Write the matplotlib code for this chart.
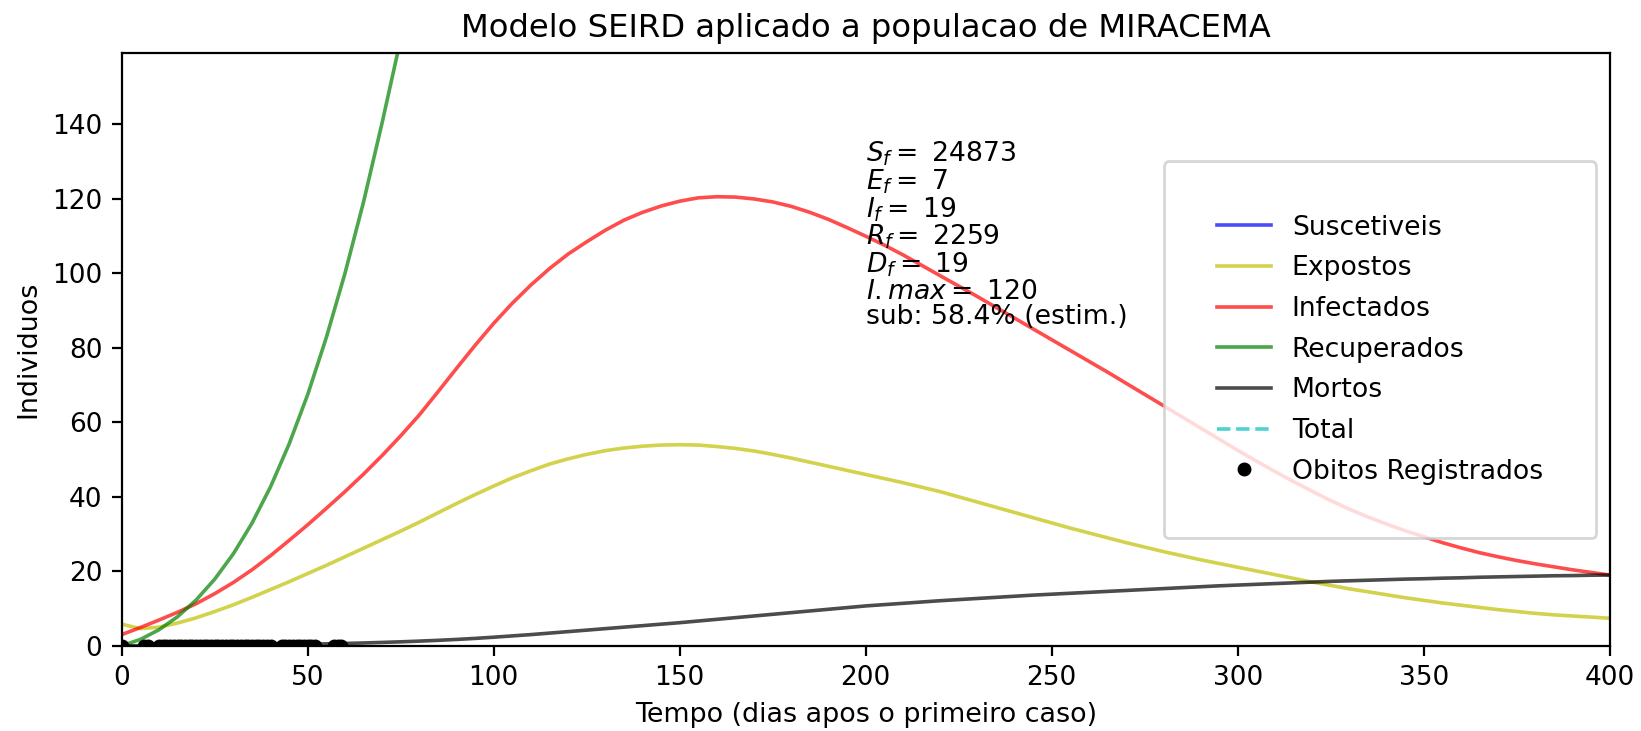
import matplotlib
matplotlib.use("Agg")
import matplotlib.pyplot as plt

# Simulated SEIRD compartments, sampled every 5 days after the first case
t = [0, 5, 10, 15, 20, 25, 30, 35, 40, 45,
     50, 55, 60, 65, 70, 75, 80, 85, 90, 95,
     100, 105, 110, 115, 120, 125, 130, 135, 140, 145,
     150, 155, 160, 165, 170, 175, 180, 185, 190, 195,
     200, 205, 210, 215, 220, 225, 230, 235, 240, 245,
     250, 255, 260, 265, 270, 275, 280, 285, 290, 295,
     300, 305, 310, 315, 320, 325, 330, 335, 340, 345,
     350, 355, 360, 365, 370, 375, 380, 385, 390, 395,
     400]

expostos = [5.8, 4.6, 5.0, 6.1, 7.5, 9.2, 11.0, 13.0, 15.1, 17.2,
            19.4, 21.6, 23.9, 26.2, 28.5, 30.8, 33.2, 35.7, 38.2, 40.6,
            42.9, 45.1, 47.0, 48.8, 50.2, 51.4, 52.4, 53.1, 53.6, 53.9,
            54.0, 53.9, 53.5, 53.0, 52.3, 51.4, 50.4, 49.3, 48.2, 47.1,
            46.0, 44.9, 43.8, 42.6, 41.4, 40.0, 38.6, 37.2, 35.8, 34.4,
            33.0, 31.6, 30.3, 29.0, 27.7, 26.5, 25.3, 24.2, 23.1, 22.1,
            21.1, 20.1, 19.1, 18.1, 17.1, 16.2, 15.3, 14.5, 13.7, 12.9,
            12.2, 11.5, 10.9, 10.3, 9.7, 9.2, 8.7, 8.3, 8.0, 7.7,
            7.4]

infectados = [3.0, 4.9, 6.9, 9.0, 11.3, 14.0, 17.0, 20.4, 24.2, 28.3,
              32.5, 36.9, 41.4, 46.1, 51.1, 56.4, 62.0, 68.2, 74.5, 80.7,
              86.6, 92.0, 96.9, 101.3, 105.2, 108.5, 111.6, 114.3, 116.4, 118.1,
              119.4, 120.3, 120.6, 120.5, 120.0, 119.2, 118.0, 116.4, 114.5, 112.3,
              110.0, 107.6, 105.0, 102.2, 99.4, 96.6, 93.8, 90.9, 88.0, 85.1,
              82.2, 79.3, 76.4, 73.5, 70.5, 67.5, 64.5, 61.5, 58.5, 55.5,
              52.5, 49.6, 46.8, 44.1, 41.5, 39.0, 36.7, 34.6, 32.7, 30.9,
              29.3, 27.7, 26.3, 25.0, 23.9, 22.9, 22.0, 21.2, 20.4, 19.7,
              19.0]

recuperados = [0.0, 1.7, 4.3, 7.8, 12.3, 17.9, 24.7, 32.9, 42.7, 54.2,
               67.5, 82.8, 100.0, 119.2, 140.5, 163.0, 188.0, 215.0, 245.0, 277.0,
               310, 345, 385, 427, 472, 518, 566, 615, 666, 718,
               770, 823, 876, 929, 982, 1035, 1087, 1139, 1190, 1245,
               1300, 1350, 1398, 1445, 1491, 1536, 1580, 1622, 1663, 1702,
               1740, 1776, 1811, 1844, 1876, 1906, 1934, 1961, 1986, 2009,
               2030, 2048, 2065, 2081, 2096, 2110, 2123, 2135, 2147, 2158,
               2168, 2178, 2187, 2196, 2205, 2214, 2223, 2233, 2242, 2251,
               2259]

mortos = [0.0, 0.01, 0.03, 0.05, 0.08, 0.12, 0.16, 0.21, 0.27, 0.34,
          0.42, 0.51, 0.62, 0.75, 0.9, 1.06, 1.25, 1.46, 1.7, 1.98,
          2.3, 2.65, 3.0, 3.4, 3.8, 4.2, 4.6, 5.0, 5.4, 5.8,
          6.2, 6.65, 7.1, 7.55, 8.0, 8.45, 8.9, 9.35, 9.8, 10.25,
          10.7, 11.05, 11.4, 11.75, 12.1, 12.4, 12.7, 13.0, 13.3, 13.6,
          13.85, 14.1, 14.35, 14.6, 14.85, 15.1, 15.35, 15.6, 15.85, 16.1,
          16.3, 16.5, 16.7, 16.9, 17.1, 17.3, 17.45, 17.6, 17.75, 17.9,
          18.0, 18.15, 18.25, 18.4, 18.5, 18.6, 18.7, 18.8, 18.85, 18.95,
          19.0]

# Susceptible and total population (far above the visible range)
t_s = [0, 100, 200, 300, 400]
suscetiveis = [27168, 26560, 25460, 24980, 24873]
total = [27177, 27177, 27177, 27177, 27177]

# Recorded deaths (days with reports)
dias_obitos = [0, 6, 7, 10, 11, 12, 13, 14, 15, 16, 17, 18, 19, 20, 21, 22, 23, 24, 25, 26, 27,
               28, 29, 30, 31, 32, 33, 34, 35, 36, 37, 38, 39, 40, 43, 44, 45, 46, 47, 48, 49,
               50, 51, 52, 57, 58, 59]
obitos = [0] * len(dias_obitos)

resumo = [r"$S_f = $ 24873", r"$E_f = $ 7", r"$I_f = $ 19", r"$R_f = $ 2259",
          r"$D_f = $ 19", r"$I.max = $ 120", "sub: 58.4% (estim.)"]

fig = plt.figure(figsize=(8.205, 3.655), dpi=200)
ax = fig.add_axes([0.0742, 0.1166, 0.9067, 0.8104])

lw = 1.3
ax.plot(t_s, suscetiveis, 'b', alpha=0.7, lw=lw, label='Suscetiveis')
ax.plot(t, expostos, 'y', alpha=0.7, lw=lw, label='Expostos')
ax.plot(t, infectados, 'r', alpha=0.7, lw=lw, label='Infectados')
ax.plot(t, recuperados, 'g', alpha=0.7, lw=lw, label='Recuperados')
ax.plot(t, mortos, 'k', alpha=0.7, lw=lw, label='Mortos')
ax.plot(t_s, total, 'c--', alpha=0.7, lw=lw, label='Total')
ax.plot(dias_obitos, obitos, 'ko', markersize=4.0, label='Obitos Registrados')

ax.set_xlim(0, 400)
ax.set_ylim(0, 159.1)
ax.set_yticks([0, 20, 40, 60, 80, 100, 120, 140])
ax.tick_params(labelsize=9.5)

ax.set_title('Modelo SEIRD aplicado a populacao de MIRACEMA', fontsize=11.6)
ax.set_xlabel('Tempo (dias apos o primeiro caso)', fontsize=9.7)
ax.set_ylabel('Individuos', fontsize=9.7)

ax.text(200, 136, "\n".join(resumo), fontsize=9.6, va='top', ha='left',
        linespacing=0.97)

ax.legend(loc='center right', fontsize=9.6, borderpad=2.0, labelspacing=0.55)

fig.savefig('out.png', dpi=200)
